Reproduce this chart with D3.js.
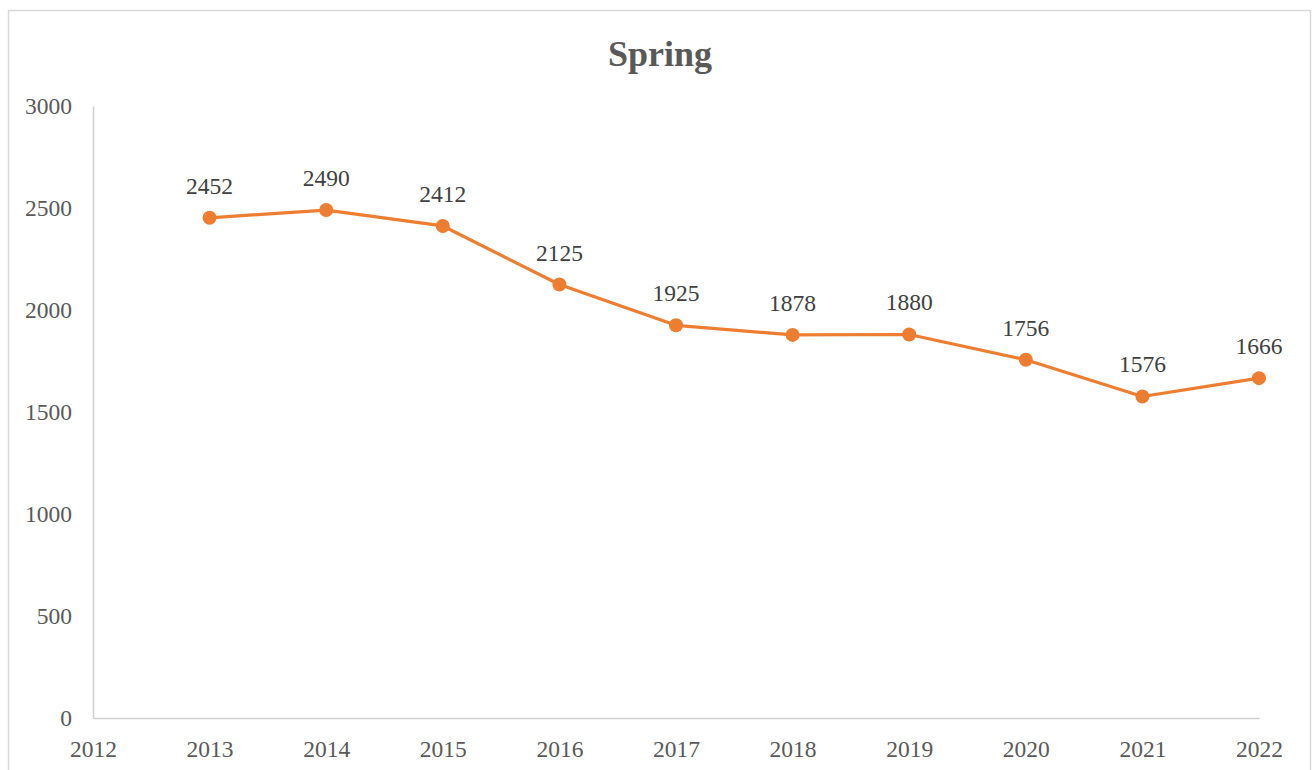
<!DOCTYPE html>
<html>
<head>
<meta charset="utf-8">
<script src="https://cdn.jsdelivr.net/npm/d3@7"></script>
<style>
  body { margin: 0; background: #fff; }
  text { font-family: "Liberation Serif", "Times New Roman", serif; }
</style>
</head>
<body>
<div id="chart"></div>
<script>
const years = [2013, 2014, 2015, 2016, 2017, 2018, 2019, 2020, 2021, 2022];
const spring = [2452, 2490, 2412, 2125, 1925, 1878, 1880, 1756, 1576, 1666];
const xTicks = [2012, 2013, 2014, 2015, 2016, 2017, 2018, 2019, 2020, 2021, 2022];
const yTicks = [0, 500, 1000, 1500, 2000, 2500, 3000];

const w = 1313, h = 770;
const orange = "#ED7D31";

const svg = d3.select("#chart")
  .append("svg")
  .attr("width", w)
  .attr("height", h);

// chart area frame
svg.append("rect")
  .attr("x", 8.5).attr("y", 10.5)
  .attr("width", 1302).attr("height", 800)
  .attr("fill", "#fff")
  .attr("stroke", "#d9d9d9")
  .attr("stroke-width", 1.5);

svg.append("text")
  .attr("x", 660).attr("y", 66)
  .attr("text-anchor", "middle")
  .style("font-size", "36px")
  .style("font-weight", "bold")
  .attr("fill", "#595959")
  .text("Spring");

const x = d3.scaleLinear().domain([2012, 2022]).range([93, 1259]);
const y = d3.scaleLinear().domain([0, 3000]).range([718, 106]);

const xAxis = svg.append("g")
  .attr("transform", `translate(0,${y(0)})`)
  .call(d3.axisBottom(x).tickValues(xTicks).tickFormat(d3.format("d"))
    .tickSize(0).tickPadding(22));

const yAxis = svg.append("g")
  .attr("transform", `translate(${x(2012)},0)`)
  .call(d3.axisLeft(y).tickValues(yTicks).tickFormat(d3.format("d"))
    .tickSize(0).tickPadding(21));

[xAxis, yAxis].forEach(g => {
  g.select(".domain").attr("stroke", "#d0d0d0").attr("stroke-width", 1.5);
  g.selectAll("text")
    .style("font-size", "23.5px")
    .style("font-family", '"Liberation Serif", "Times New Roman", serif')
    .attr("fill", "#595959");
});

const pts = years.map((yr, i) => ({ yr, v: spring[i] }));

svg.append("path")
  .datum(pts)
  .attr("fill", "none")
  .attr("stroke", orange)
  .attr("stroke-width", 3.2)
  .attr("stroke-linejoin", "round")
  .attr("d", d3.line().x(d => x(d.yr)).y(d => y(d.v)));

svg.selectAll("circle.pt")
  .data(pts)
  .enter().append("circle")
  .attr("class", "pt")
  .attr("cx", d => x(d.yr))
  .attr("cy", d => y(d.v))
  .attr("r", 7)
  .attr("fill", orange);

svg.selectAll("text.lbl")
  .data(pts)
  .enter().append("text")
  .attr("class", "lbl")
  .attr("x", d => x(d.yr))
  .attr("y", d => y(d.v) - 24)
  .attr("text-anchor", "middle")
  .style("font-size", "23.5px")
  .attr("fill", "#404040")
  .text(d => d.v);
</script>
</body>
</html>
